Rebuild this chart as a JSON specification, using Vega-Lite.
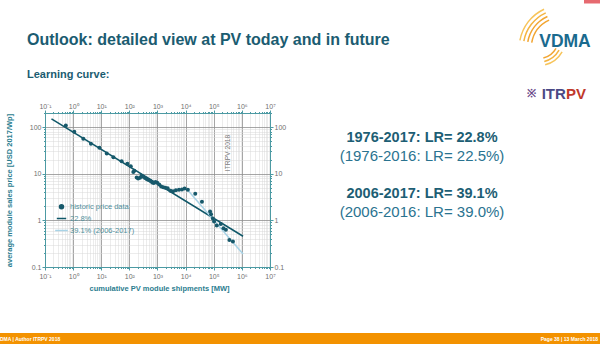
{
  "$schema": "https://vega.github.io/schema/vega-lite/v6.json",
  "width": 225,
  "height": 154,
  "autosize": {"type": "none"},
  "padding": {"left": 45, "top": 113, "right": 330, "bottom": 77},
  "background": "white",
  "config": {"view": {"stroke": null}, "font": "Liberation Sans"},
  "resolve": {"axis": {"x": "independent", "y": "independent"}},
  "layer": [
    {
      "data": {"values": [
        {"series": "22.8%", "mw": 0.17, "price": 150},
        {"series": "22.8%", "mw": 1100000, "price": 0.456},
        {"series": "39.1% (2006-2017)", "mw": 11000, "price": 4.7},
        {"series": "39.1% (2006-2017)", "mw": 1100000, "price": 0.19}
      ]},
      "mark": {"type": "line", "strokeWidth": 1.5},
      "encoding": {
        "x": {"field": "mw", "type": "quantitative",
          "scale": {"type": "log", "domain": [0.1, 10000000], "nice": false},
          "axis": {"orient": "top", "title": null, "grid": false,
            "values": [0.1,0.2,0.3,0.4,0.5,0.6,0.7,0.8,0.9,1,2,3,4,5,6,7,8,9,10,20,30,40,50,60,70,80,90,100,200,300,400,500,600,700,800,900,1000,2000,3000,4000,5000,6000,7000,8000,9000,10000,20000,30000,40000,50000,60000,70000,80000,90000,100000,200000,300000,400000,500000,600000,700000,800000,900000,1000000,2000000,3000000,4000000,5000000,6000000,7000000,8000000,9000000,10000000],
            "labelExpr": "abs(log(datum.value)/LN10 - round(log(datum.value)/LN10)) < 0.001 ? ['10⁻¹','10⁰','10¹','10²','10³','10⁴','10⁵','10⁶','10⁷'][round(log(datum.value)/LN10)+1] : ''",
            "labelOverlap": false, "labelFlush": false, "labelBound": false,
            "labelFontSize": 7, "labelColor": "#707070", "labelPadding": 1,
            "domainColor": "#4c9aa3", "tickColor": "#4c9aa3",
            "tickSize": {"condition": {"test": "abs(log(datum.value)/LN10 - round(log(datum.value)/LN10)) < 0.001", "value": 3}, "value": 1.5}
          }},
        "y": {"field": "price", "type": "quantitative",
          "scale": {"type": "log", "domain": [0.1, 200], "nice": false},
          "axis": {"orient": "right", "title": null, "grid": false,
            "values": [0.1,0.2,0.3,0.4,0.5,0.6,0.7,0.8,0.9,1,2,3,4,5,6,7,8,9,10,20,30,40,50,60,70,80,90,100,200],
            "format": "~g",
            "labelExpr": "abs(log(datum.value)/LN10 - round(log(datum.value)/LN10)) < 0.001 ? datum.label : ''",
            "labelOverlap": false, "labelFlush": false, "labelBound": false,
            "labelFontSize": 7, "labelColor": "#707070", "labelPadding": 1,
            "domainColor": "#4c9aa3", "tickColor": "#4c9aa3",
            "tickSize": {"condition": {"test": "abs(log(datum.value)/LN10 - round(log(datum.value)/LN10)) < 0.001", "value": 3}, "value": 1.5}
          }},
        "color": {"field": "series", "type": "nominal",
          "scale": {"domain": ["historic price data", "22.8%", "39.1% (2006-2017)"], "range": ["#17596b", "#0f5768", "#a8d3e6"]}}
      }
    },
    {
      "data": {"values": [
        {"series": "historic price data", "mw": 0.55, "price": 108},
        {"series": "historic price data", "mw": 1.1, "price": 79},
        {"series": "historic price data", "mw": 2.3, "price": 56},
        {"series": "historic price data", "mw": 4.3, "price": 44},
        {"series": "historic price data", "mw": 8.6, "price": 36},
        {"series": "historic price data", "mw": 15.7, "price": 27},
        {"series": "historic price data", "mw": 27, "price": 22.4},
        {"series": "historic price data", "mw": 53, "price": 18.4},
        {"series": "historic price data", "mw": 85, "price": 16.4},
        {"series": "historic price data", "mw": 112, "price": 14.4},
        {"series": "historic price data", "mw": 138, "price": 10.9},
        {"series": "historic price data", "mw": 150, "price": 11.6},
        {"series": "historic price data", "mw": 182, "price": 8.3},
        {"series": "historic price data", "mw": 205, "price": 7.9},
        {"series": "historic price data", "mw": 240, "price": 8.2},
        {"series": "historic price data", "mw": 270, "price": 9.0},
        {"series": "historic price data", "mw": 310, "price": 8.6},
        {"series": "historic price data", "mw": 360, "price": 8.1},
        {"series": "historic price data", "mw": 420, "price": 7.6},
        {"series": "historic price data", "mw": 480, "price": 7.3},
        {"series": "historic price data", "mw": 560, "price": 7.0},
        {"series": "historic price data", "mw": 650, "price": 6.5},
        {"series": "historic price data", "mw": 740, "price": 6.3},
        {"series": "historic price data", "mw": 850, "price": 6.6},
        {"series": "historic price data", "mw": 980, "price": 6.4},
        {"series": "historic price data", "mw": 1150, "price": 5.9},
        {"series": "historic price data", "mw": 1350, "price": 5.3},
        {"series": "historic price data", "mw": 1600, "price": 5.1},
        {"series": "historic price data", "mw": 1900, "price": 5.0},
        {"series": "historic price data", "mw": 2300, "price": 4.9},
        {"series": "historic price data", "mw": 2900, "price": 4.3},
        {"series": "historic price data", "mw": 3600, "price": 4.2},
        {"series": "historic price data", "mw": 4500, "price": 4.4},
        {"series": "historic price data", "mw": 5800, "price": 4.5},
        {"series": "historic price data", "mw": 7400, "price": 4.6},
        {"series": "historic price data", "mw": 9200, "price": 4.8},
        {"series": "historic price data", "mw": 12000, "price": 4.5},
        {"series": "historic price data", "mw": 22000, "price": 3.7},
        {"series": "historic price data", "mw": 38000, "price": 2.5},
        {"series": "historic price data", "mw": 74000, "price": 1.55},
        {"series": "historic price data", "mw": 80000, "price": 1.35},
        {"series": "historic price data", "mw": 93000, "price": 1.1},
        {"series": "historic price data", "mw": 103000, "price": 0.94},
        {"series": "historic price data", "mw": 128000, "price": 0.78},
        {"series": "historic price data", "mw": 178000, "price": 0.83},
        {"series": "historic price data", "mw": 222000, "price": 0.68},
        {"series": "historic price data", "mw": 270000, "price": 0.63},
        {"series": "historic price data", "mw": 360000, "price": 0.38},
        {"series": "historic price data", "mw": 480000, "price": 0.35}
      ]},
      "mark": {"type": "point", "filled": true, "opacity": 1},
      "encoding": {
        "x": {"field": "mw", "type": "quantitative",
          "scale": {"type": "log", "domain": [0.1, 10000000], "nice": false},
          "axis": {"orient": "bottom", "title": "cumulative PV module shipments [MW]",
            "titleFontSize": 7.5, "titleFontWeight": "bold", "titleColor": "#2a7d8f", "titleY": 21, "titleX": 114, "titleBaseline": "middle",
            "values": [0.1,0.2,0.3,0.4,0.5,0.6,0.7,0.8,0.9,1,2,3,4,5,6,7,8,9,10,20,30,40,50,60,70,80,90,100,200,300,400,500,600,700,800,900,1000,2000,3000,4000,5000,6000,7000,8000,9000,10000,20000,30000,40000,50000,60000,70000,80000,90000,100000,200000,300000,400000,500000,600000,700000,800000,900000,1000000,2000000,3000000,4000000,5000000,6000000,7000000,8000000,9000000,10000000],
            "labelExpr": "abs(log(datum.value)/LN10 - round(log(datum.value)/LN10)) < 0.001 ? ['10⁻¹','10⁰','10¹','10²','10³','10⁴','10⁵','10⁶','10⁷'][round(log(datum.value)/LN10)+1] : ''",
            "labelOverlap": false, "labelFlush": false, "labelBound": false,
            "labelFontSize": 7, "labelColor": "#707070", "labelPadding": 2,
            "domainColor": "#4c9aa3", "tickColor": "#4c9aa3",
            "tickSize": {"condition": {"test": "abs(log(datum.value)/LN10 - round(log(datum.value)/LN10)) < 0.001", "value": 3}, "value": 1.5},
            "grid": true,
            "gridColor": {"condition": {"test": "abs(log(datum.value)/LN10 - round(log(datum.value)/LN10)) < 0.001", "value": "#8f8f8f"}, "value": "#d8d8d8"},
            "gridWidth": {"condition": {"test": "abs(log(datum.value)/LN10 - round(log(datum.value)/LN10)) < 0.001", "value": 0.8}, "value": 0.5}
          }},
        "y": {"field": "price", "type": "quantitative",
          "scale": {"type": "log", "domain": [0.1, 200], "nice": false},
          "axis": {"orient": "left", "title": "average module sales price [USD 2017/Wp]",
            "titleFontSize": 7.5, "titleFontWeight": "bold", "titleColor": "#2a7d8f",
            "titleX": -36, "titleY": 77, "titleAngle": 270, "titleAlign": "center", "titleBaseline": "middle",
            "values": [0.1,0.2,0.3,0.4,0.5,0.6,0.7,0.8,0.9,1,2,3,4,5,6,7,8,9,10,20,30,40,50,60,70,80,90,100,200],
            "format": "~g",
            "labelExpr": "abs(log(datum.value)/LN10 - round(log(datum.value)/LN10)) < 0.001 ? datum.label : ''",
            "labelOverlap": false, "labelFlush": false, "labelBound": false,
            "labelFontSize": 7, "labelColor": "#707070", "labelPadding": 1,
            "domainColor": "#4c9aa3", "tickColor": "#4c9aa3",
            "tickSize": {"condition": {"test": "abs(log(datum.value)/LN10 - round(log(datum.value)/LN10)) < 0.001", "value": 3}, "value": 1.5},
            "grid": true,
            "gridColor": {"condition": {"test": "abs(log(datum.value)/LN10 - round(log(datum.value)/LN10)) < 0.001", "value": "#8f8f8f"}, "value": "#d8d8d8"},
            "gridWidth": {"condition": {"test": "abs(log(datum.value)/LN10 - round(log(datum.value)/LN10)) < 0.001", "value": 0.8}, "value": 0.5}
          }},
        "color": {"field": "series", "type": "nominal",
          "scale": {"domain": ["historic price data", "22.8%", "39.1% (2006-2017)"], "range": ["#17596b", "#0f5768", "#a8d3e6"]},
          "legend": {"orient": "none", "legendX": 9, "legendY": 90, "title": null,
            "labelFontSize": 7.5, "labelColor": "#4f8f9c", "padding": 0, "rowPadding": 1, "labelOffset": 1,
            "symbolStrokeWidth": 1.5}},
        "shape": {"field": "series", "type": "nominal",
          "scale": {"domain": ["historic price data", "22.8%", "39.1% (2006-2017)"], "range": ["circle", "stroke", "stroke"]},
          "legend": {"orient": "none", "legendX": 9, "legendY": 90, "title": null,
            "labelFontSize": 7.5, "labelColor": "#4f8f9c", "padding": 0, "rowPadding": 1, "labelOffset": 1,
            "symbolStrokeWidth": 1.5}},
        "size": {"field": "series", "type": "nominal",
          "scale": {"domain": ["historic price data", "22.8%", "39.1% (2006-2017)"], "range": [16, 160, 160]},
          "legend": {"orient": "none", "legendX": 9, "legendY": 90, "title": null,
            "labelFontSize": 7.5, "labelColor": "#4f8f9c", "padding": 0, "rowPadding": 1, "labelOffset": 1,
            "symbolStrokeWidth": 1.5}}
      }
    },
    {
      "data": {"values": [{"label": "ITRPV 2018"}]},
      "mark": {"type": "text", "angle": 270, "fontSize": 6.7, "color": "#7a7a7a", "align": "center", "baseline": "middle"},
      "encoding": {
        "x": {"datum": 325000, "type": "quantitative", "axis": null},
        "y": {"datum": 27.9, "type": "quantitative", "axis": null},
        "text": {"field": "label"}
      }
    },
    {
      "data": {"values": [{"label": "Outlook: detailed view at PV today and in future"}]},
      "mark": {"type": "text", "fontSize": 16, "fontWeight": "bold", "color": "#1b5c71", "align": "left", "baseline": "alphabetic"},
      "encoding": {"x": {"value": -18}, "y": {"value": -68}, "text": {"field": "label"}}
    },
    {
      "data": {"values": [{"label": "Learning curve:"}]},
      "mark": {"type": "text", "fontSize": 11, "fontWeight": "bold", "color": "#1b5c71", "align": "left", "baseline": "alphabetic"},
      "encoding": {"x": {"value": -18}, "y": {"value": -35}, "text": {"field": "label"}}
    },
    {
      "data": {"values": [{"label": "1976-2017: LR= 22.8%"}]},
      "mark": {"type": "text", "fontSize": 14.5, "fontWeight": "bold", "color": "#1d5e74", "align": "center", "baseline": "middle"},
      "encoding": {"x": {"value": 377}, "y": {"value": 25.3}, "text": {"field": "label"}}
    },
    {
      "data": {"values": [{"label": "(1976-2016: LR= 22.5%)"}]},
      "mark": {"type": "text", "fontSize": 15, "color": "#2a7390", "align": "center", "baseline": "middle"},
      "encoding": {"x": {"value": 377}, "y": {"value": 43}, "text": {"field": "label"}}
    },
    {
      "data": {"values": [{"label": "2006-2017: LR= 39.1%"}]},
      "mark": {"type": "text", "fontSize": 14.5, "fontWeight": "bold", "color": "#1d5e74", "align": "center", "baseline": "middle"},
      "encoding": {"x": {"value": 377}, "y": {"value": 81}, "text": {"field": "label"}}
    },
    {
      "data": {"values": [{"label": "(2006-2016: LR= 39.0%)"}]},
      "mark": {"type": "text", "fontSize": 15, "color": "#2a7390", "align": "center", "baseline": "middle"},
      "encoding": {"x": {"value": 377}, "y": {"value": 98.7}, "text": {"field": "label"}}
    },
    {
      "data": {"values": [{"label": "VDMA"}]},
      "mark": {"type": "text", "fontSize": 17.5, "fontWeight": "bold", "color": "#1a6a8e", "align": "center", "baseline": "middle"},
      "encoding": {"x": {"value": 520}, "y": {"value": -71.3}, "text": {"field": "label"}}
    },
    {
      "data": {"values": [{"k": 1}]},
      "mark": {"type": "arc", "radius": 31.5, "radius2": 30, "theta": 4.89, "theta2": 5.85, "color": "#f2a531"},
      "encoding": {"x": {"value": 517}, "y": {"value": -65}}
    },
    {
      "data": {"values": [{"k": 1}]},
      "mark": {"type": "arc", "radius": 35.5, "radius2": 34, "theta": 4.89, "theta2": 5.85, "color": "#f2a531"},
      "encoding": {"x": {"value": 517}, "y": {"value": -65}}
    },
    {
      "data": {"values": [{"k": 1}]},
      "mark": {"type": "arc", "radius": 39.5, "radius2": 38, "theta": 4.89, "theta2": 5.85, "color": "#f5b440"},
      "encoding": {"x": {"value": 517}, "y": {"value": -65}}
    },
    {
      "data": {"values": [{"k": 1}]},
      "mark": {"type": "arc", "radius": 43.5, "radius2": 42, "theta": 4.89, "theta2": 5.85, "color": "#f7c45a"},
      "encoding": {"x": {"value": 517}, "y": {"value": -65}}
    },
    {
      "data": {"values": [{"k": 1}]},
      "mark": {"type": "arc", "radius": 21.5, "radius2": 20, "theta": 2.09, "theta2": 2.88, "color": "#f2a531"},
      "encoding": {"x": {"value": 493}, "y": {"value": -75}}
    },
    {
      "data": {"values": [{"k": 1}]},
      "mark": {"type": "arc", "radius": 25, "radius2": 23.5, "theta": 2.09, "theta2": 2.88, "color": "#f5b440"},
      "encoding": {"x": {"value": 493}, "y": {"value": -75}}
    },
    {
      "data": {"values": [{"k": 1}]},
      "mark": {"type": "arc", "radius": 28.5, "radius2": 27, "theta": 2.09, "theta2": 2.88, "color": "#f7c45a"},
      "encoding": {"x": {"value": 493}, "y": {"value": -75}}
    },
    {
      "data": {"values": [{"label": "※"}]},
      "mark": {"type": "text", "fontSize": 11, "fontWeight": "bold", "color": "#6b4a8a", "align": "center", "baseline": "middle"},
      "encoding": {"x": {"value": 486}, "y": {"value": -18.7}, "text": {"field": "label"}}
    },
    {
      "data": {"values": [{"label": "ITR"}]},
      "mark": {"type": "text", "fontSize": 15, "fontWeight": "bold", "color": "#4b4a86", "align": "left", "baseline": "middle"},
      "encoding": {"x": {"value": 496.7}, "y": {"value": -18.7}, "text": {"field": "label"}}
    },
    {
      "data": {"values": [{"label": "PV"}]},
      "mark": {"type": "text", "fontSize": 15, "fontWeight": "bold", "color": "#c0392b", "align": "left", "baseline": "middle"},
      "encoding": {"x": {"value": 520.9}, "y": {"value": -18.7}, "text": {"field": "label"}}
    },
    {
      "data": {"values": [{"k": 1}]},
      "mark": {"type": "rect", "color": "#e66a70"},
      "encoding": {"x": {"value": 539}, "x2": {"value": 555}, "y": {"value": -113}, "y2": {"value": -109.5}}
    },
    {
      "data": {"values": [{"k": 1}]},
      "mark": {"type": "rect", "color": "#f39200"},
      "encoding": {"x": {"value": -45}, "x2": {"value": 555}, "y": {"value": 220}, "y2": {"value": 231}}
    },
    {
      "data": {"values": [{"label": "DMA | Author ITRPV 2018"}]},
      "mark": {"type": "text", "fontSize": 5, "fontWeight": "bold", "color": "white", "align": "left", "baseline": "middle"},
      "encoding": {"x": {"value": -45}, "y": {"value": 225.5}, "text": {"field": "label"}}
    },
    {
      "data": {"values": [{"label": "Page 38 | 13 March 2018"}]},
      "mark": {"type": "text", "fontSize": 5, "fontWeight": "bold", "color": "white", "align": "right", "baseline": "middle"},
      "encoding": {"x": {"value": 553}, "y": {"value": 225.5}, "text": {"field": "label"}}
    }
  ]
}
